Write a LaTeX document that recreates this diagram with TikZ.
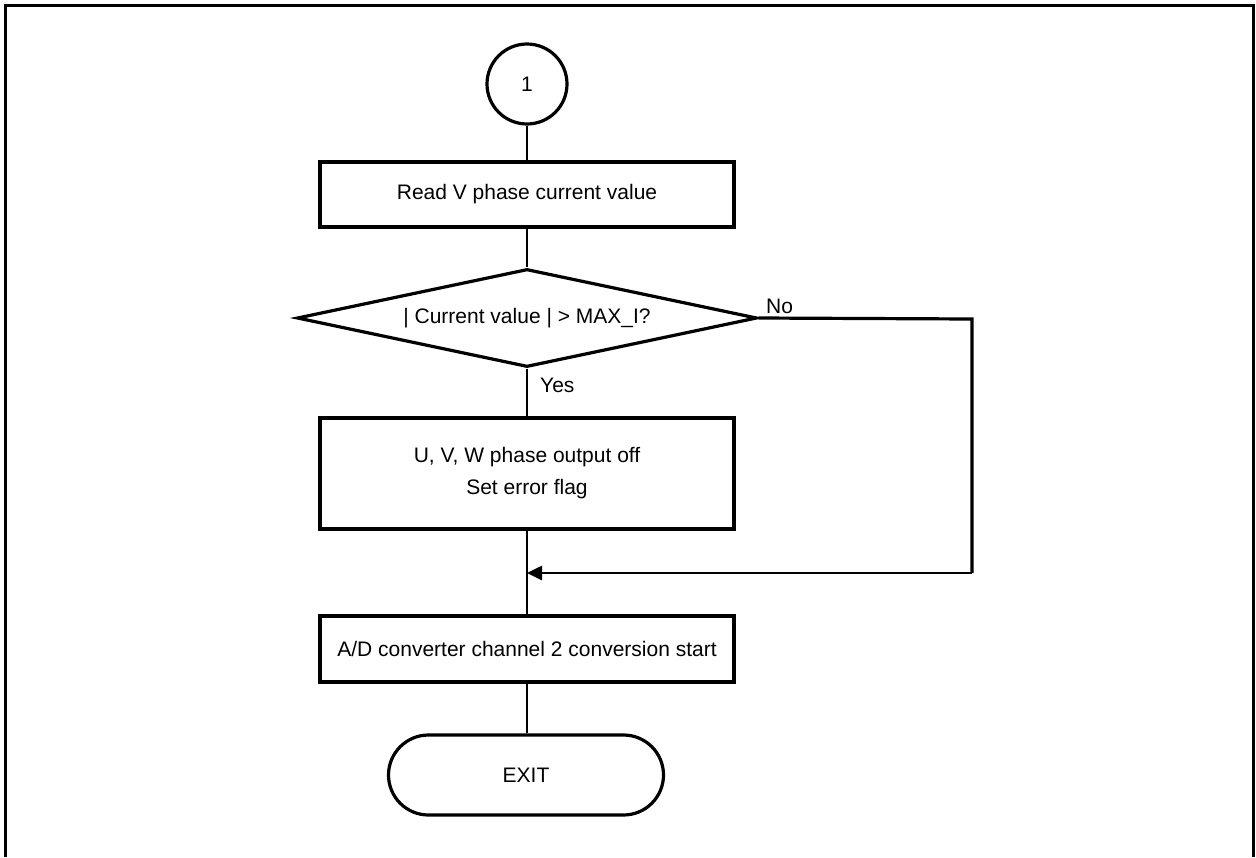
\documentclass[tikz,border=0pt]{standalone}
\usepackage{fontspec}
\setmainfont{Liberation Sans}
\usetikzlibrary{shapes.geometric,arrows.meta}

\tikzset{
  flow/.style={line width=1.6pt},
  thickflow/.style={line width=3.2pt},
  procbox/.style={draw, line width=3.2pt, minimum width=414pt, inner sep=0pt, align=center},
  decision/.style={draw, diamond, line width=3.2pt, minimum width=460pt, minimum height=98pt, aspect=4.7, inner sep=0pt},
  connector/.style={draw, circle, line width=3.2pt, minimum size=80pt, inner sep=0pt},
  terminal/.style={draw, rectangle, rounded corners=40pt, line width=3.2pt, minimum width=275pt, minimum height=80pt, inner sep=0pt},
  lbl/.style={inner sep=0pt}
}

\begin{document}
\begin{tikzpicture}[x=1pt, y=-1pt, font=\fontsize{21}{32}\selectfont]
  \useasboundingbox (0,0) rectangle (1256,857);
  % page frame, open at the bottom
  \draw[line width=2.7pt] (5.3,857) -- (5.3,5.8) -- (1253.8,5.8) -- (1253.8,857);

  \node[connector] (c1) at (527,84) {1};
  \node[procbox, minimum height=65pt] (rd) at (527,194.5) {Read V phase current value};
  \node[decision] (dec) at (527,318) {| Current value | > MAX\_I?};
  \node[procbox, minimum height=111pt] (off) at (527,473.5) {U, V, W phase output off\\Set error flag};
  \node[procbox, minimum height=66pt] (ad) at (527,649) {A/D converter channel 2 conversion start};
  \node[terminal] (ex) at (526,775) {EXIT};

  \coordinate (nr) at (972,319);
  \coordinate (nd) at (972,573);
  \coordinate (jn) at (527,573);

  \draw[flow] (c1) -- (rd);
  \draw[flow] (rd) -- (dec);
  \draw[flow] (dec) -- (off);
  \draw[flow] (off) -- (ad);
  \draw[flow] (ad.south) -- (ex.north -| ad.south);
  \draw[thickflow] (dec.east) -- (nr) -- (nd);
  \draw[line width=2.6pt, -{Triangle[length=15pt,width=14pt]}] (nd) -- (jn);

  \node[lbl, anchor=west] (no) at (766,306) {No};
  \node[lbl, anchor=west] (yes) at (540,385) {Yes};
\end{tikzpicture}
\end{document}
